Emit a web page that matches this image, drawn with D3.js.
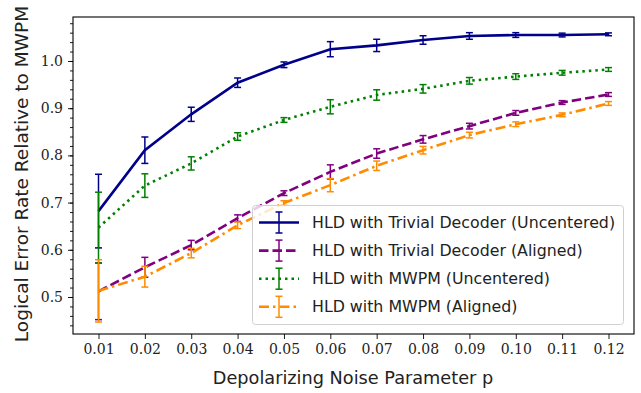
<!DOCTYPE html>
<html>
<head>
<meta charset="utf-8">
<script src="https://cdn.jsdelivr.net/npm/d3@7"></script>
<style>
  body { margin: 0; background: #fff; }
  svg { display: block; }
</style>
</head>
<body>
<svg id="chart" width="641" height="393"></svg>
<script>
const pValues = [0.01, 0.02, 0.03, 0.04, 0.05, 0.06, 0.07, 0.08, 0.09, 0.10, 0.11, 0.12]
const xTickLabels = ['0.01', '0.02', '0.03', '0.04', '0.05', '0.06', '0.07', '0.08', '0.09', '0.10', '0.11', '0.12']
const yTickValues = [0.5, 0.6, 0.7, 0.8, 0.9, 1.0]

const trivialUncentered = [0.682, 0.811, 0.887, 0.954, 0.992, 1.025, 1.033, 1.0445, 1.053, 1.055, 1.055, 1.0565]
const trivialUncenteredErr = [0.078, 0.028, 0.015, 0.01, 0.006, 0.016, 0.013, 0.009, 0.007, 0.005, 0.004, 0.003]
const trivialAligned = [0.512, 0.563, 0.61, 0.667, 0.72, 0.765, 0.804, 0.834, 0.862, 0.89, 0.912, 0.929]
const trivialAlignedErr = [0.06, 0.021, 0.01, 0.007, 0.005, 0.015, 0.01, 0.008, 0.006, 0.005, 0.004, 0.004]
const mwpmUncentered = [0.647, 0.736, 0.783, 0.84, 0.875, 0.903, 0.928, 0.941, 0.958, 0.967, 0.975, 0.982]
const mwpmUncenteredErr = [0.075, 0.025, 0.014, 0.008, 0.005, 0.015, 0.011, 0.009, 0.007, 0.006, 0.005, 0.004]
const mwpmAligned = [0.513, 0.543, 0.593, 0.652, 0.699, 0.737, 0.778, 0.811, 0.843, 0.866, 0.886, 0.91]
const mwpmAlignedErr = [0.066, 0.022, 0.01, 0.007, 0.005, 0.014, 0.01, 0.008, 0.006, 0.005, 0.004, 0.004]

const seriesNames = [
  'HLD with Trivial Decoder (Uncentered)',
  'HLD with Trivial Decoder (Aligned)',
  'HLD with MWPM (Uncentered)',
  'HLD with MWPM (Aligned)'
]

const series = [
  { name: seriesNames[0], values: trivialUncentered, errs: trivialUncenteredErr, color: '#00008b', dash: null },
  { name: seriesNames[1], values: trivialAligned, errs: trivialAlignedErr, color: '#800080', dash: '9.5,4' },
  { name: seriesNames[2], values: mwpmUncentered, errs: mwpmUncenteredErr, color: '#008000', dash: '2.5,4' },
  { name: seriesNames[3], values: mwpmAligned, errs: mwpmAlignedErr, color: '#ff8c00', dash: '10,4,2.5,4' }
]

const margin = { left: 73, right: 7, top: 17, bottom: 59 }
const width = 641
const height = 393

const svg = d3.select('#chart')

const x = d3.scaleLinear()
  .domain([0.0045, 0.1255])
  .range([margin.left, width - margin.right])

const y = d3.scaleLinear()
  .domain([0.4216, 1.0932])
  .range([height - margin.bottom, margin.top])

const serif = "'DejaVu Serif', serif"
const sans = "'DejaVu Sans', sans-serif"

// axes
const xAxis = svg.append('g')
  .attr('transform', `translate(0,${height - margin.bottom})`)
  .call(d3.axisBottom(x).tickValues(pValues).tickFormat((d, i) => xTickLabels[i]).tickSize(5).tickPadding(5))
xAxis.select('.domain').remove()
xAxis.selectAll('text').style('font', `14px ${serif}`).attr('fill', '#222')

const yMinor = svg.append('g')
  .attr('transform', `translate(${margin.left},0)`)
  .call(d3.axisLeft(y).tickValues(d3.range(0.44, 1.09, 0.02)).tickFormat('').tickSize(3))
yMinor.select('.domain').remove()

const yAxis = svg.append('g')
  .attr('transform', `translate(${margin.left},0)`)
  .call(d3.axisLeft(y).tickValues(yTickValues).tickFormat(d3.format('.1f')).tickSize(5).tickPadding(5))
yAxis.select('.domain').remove()
yAxis.selectAll('text').style('font', `14px ${serif}`).attr('fill', '#222')

svg.selectAll('.tick line').attr('stroke', '#000').attr('stroke-width', 0.9)

// lines + error bars
const line = d3.line()
  .x((d, i) => x(pValues[i]))
  .y(d => y(d))

const plot = svg.append('g')
series.forEach(s => {
  const g = plot.append('g')
  g.append('path')
    .datum(s.values)
    .attr('d', line)
    .attr('fill', 'none')
    .attr('stroke', s.color)
    .attr('stroke-width', 2.6)
    .attr('stroke-dasharray', s.dash)
  const bars = g.selectAll('.bar')
    .data(s.values)
    .enter().append('g')
  bars.append('line')
    .attr('x1', (d, i) => x(pValues[i]))
    .attr('x2', (d, i) => x(pValues[i]))
    .attr('y1', (d, i) => y(d - s.errs[i]))
    .attr('y2', (d, i) => y(d + s.errs[i]))
    .attr('stroke', s.color)
    .attr('stroke-width', 1.5)
  ;[-1, 1].forEach(sign => {
    bars.append('line')
      .attr('x1', (d, i) => x(pValues[i]) - 3.5)
      .attr('x2', (d, i) => x(pValues[i]) + 3.5)
      .attr('y1', (d, i) => y(d + sign * s.errs[i]))
      .attr('y2', (d, i) => y(d + sign * s.errs[i]))
      .attr('stroke', s.color)
      .attr('stroke-width', 1.5)
  })
})

// frame
svg.append('rect')
  .attr('x', margin.left)
  .attr('y', margin.top)
  .attr('width', width - margin.left - margin.right)
  .attr('height', height - margin.top - margin.bottom)
  .attr('fill', 'none')
  .attr('stroke', '#000')
  .attr('stroke-width', 1.1)

// legend
const legend = svg.append('g')
legend.append('rect')
  .attr('x', 252.5)
  .attr('y', 205.5)
  .attr('width', 371)
  .attr('height', 119)
  .attr('rx', 3)
  .attr('fill', 'rgba(255,255,255,0.8)')
  .attr('stroke', '#d0d0d0')
  .attr('stroke-width', 1)

series.forEach((s, i) => {
  const cy = 222.5 + i * 28.1
  const row = legend.append('g')
  row.append('line')
    .attr('x1', 259).attr('x2', 299)
    .attr('y1', cy).attr('y2', cy)
    .attr('stroke', s.color)
    .attr('stroke-width', 2.6)
    .attr('stroke-dasharray', s.dash)
  row.append('line')
    .attr('x1', 279).attr('x2', 279)
    .attr('y1', cy - 10.5).attr('y2', cy + 10.5)
    .attr('stroke', s.color)
    .attr('stroke-width', 1.5)
  ;[-10.5, 10.5].forEach(dy => {
    row.append('line')
      .attr('x1', 275.5).attr('x2', 282.5)
      .attr('y1', cy + dy).attr('y2', cy + dy)
      .attr('stroke', s.color)
      .attr('stroke-width', 1.5)
  })
  row.append('text')
    .attr('x', 312)
    .attr('y', cy + 5.5)
    .style('font', `15.8px ${sans}`)
    .attr('fill', '#222')
    .text(s.name)
})

// axis labels
svg.append('text')
  .attr('x', 353)
  .attr('y', 384)
  .attr('text-anchor', 'middle')
  .style('font', `17.7px ${sans}`)
  .attr('fill', '#222')
  .text('Depolarizing Noise Parameter p')

svg.append('text')
  .attr('transform', `translate(28,174) rotate(-90)`)
  .attr('text-anchor', 'middle')
  .style('font', `18.5px ${sans}`)
  .attr('fill', '#222')
  .text('Logical Error Rate Relative to MWPM')
</script>
</body>
</html>
